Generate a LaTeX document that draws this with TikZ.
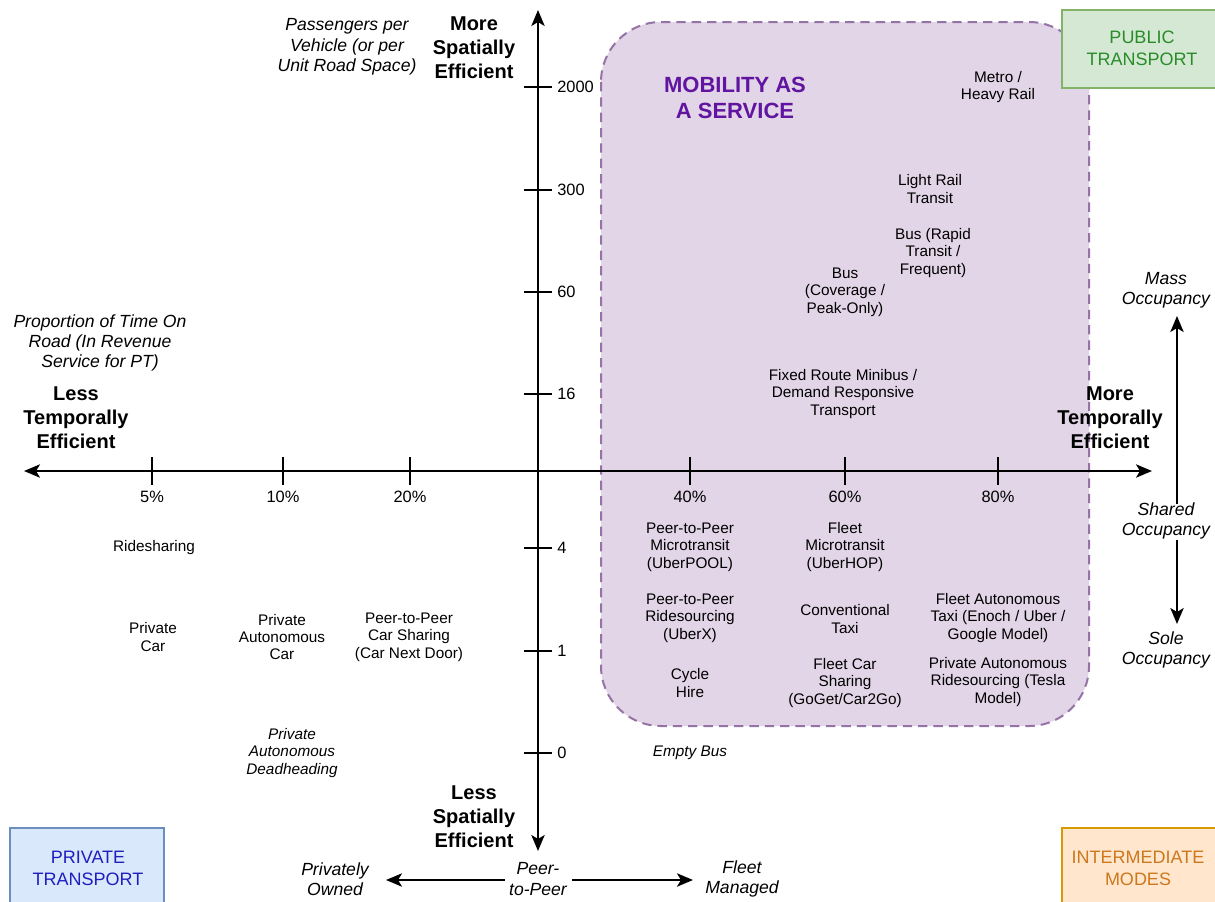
\documentclass[tikz,border=0pt]{standalone}
\usepackage{fontspec}
\setmainfont{Liberation Sans}
\usetikzlibrary{arrows.meta}
\definecolor{maasfill}{HTML}{E1D5E7}
\definecolor{maasline}{HTML}{9673A6}
\definecolor{maastext}{RGB}{96,20,160}
\definecolor{pubfill}{HTML}{D5E8D4}
\definecolor{publine}{HTML}{82B366}
\definecolor{pubtext}{RGB}{40,140,40}
\definecolor{privfill}{HTML}{DAE8FC}
\definecolor{privline}{HTML}{6C8EBF}
\definecolor{privtext}{RGB}{30,30,190}
\definecolor{intfill}{HTML}{FFE6CC}
\definecolor{intline}{HTML}{D79B00}
\definecolor{inttext}{RGB}{205,120,30}
\begin{document}
\begin{tikzpicture}[x=0.75pt,y=-0.75pt,
  item/.style={align=center, font=\fontsize{11.5}{13.1}\selectfont, inner sep=0pt},
  itemit/.style={align=center, font=\fontsize{11.5}{13.1}\selectfont\itshape, inner sep=0pt},
  axlab/.style={align=center, font=\fontsize{15}{18}\selectfont\bfseries, inner sep=0pt},
  dimlab/.style={align=center, font=\fontsize{13.2}{15.2}\selectfont\itshape, inner sep=0pt},
  ticklab/.style={font=\fontsize{12.3}{14}\selectfont, inner sep=0pt},
  corner/.style={align=center, font=\fontsize{13.5}{16.5}\selectfont, inner sep=0pt},
  tip/.tip={Stealth[length=12pt,width=10pt,inset=3pt]},
  arr/.style={line width=1.5pt, -tip},
  darr/.style={line width=1.5pt, tip-tip},
  tickmark/.style={line width=1.5pt},
  cornerbox/.style={line width=1.5pt}]
\useasboundingbox (0,0) rectangle (1215,901);
\fill[white] (0,0) rectangle (1215,901);

% MaaS region
\draw[fill=maasfill, draw=maasline, line width=1.5pt, dash pattern=on 7pt off 4.5pt, rounded corners=45pt]
  (601,22) rectangle (1089,726);
\node[axlab, text=maastext, font=\fontsize{16.5}{19}\selectfont\bfseries] (maas) at (735,98) {MOBILITY AS\\A SERVICE};

% corner boxes
\draw[cornerbox, fill=pubfill, draw=publine] (1062,10) rectangle (1222,88);
\node[corner, text=pubtext] (pub) at (1142,48) {PUBLIC\\TRANSPORT};
\draw[cornerbox, fill=privfill, draw=privline] (10,828) rectangle (164,906);
\node[corner, text=privtext] (priv) at (88,868) {PRIVATE\\TRANSPORT};
\draw[cornerbox, fill=intfill, draw=intline] (1062,828) rectangle (1222,906);
\node[corner, text=inttext] (inter) at (1138,868) {INTERMEDIATE\\MODES};

% axes
\coordinate (vtop) at (538,10);
\coordinate (vbot) at (538,851);
\coordinate (hleft) at (24,471);
\coordinate (hright) at (1152,471);
\draw[darr] (vbot) -- (vtop);
\draw[darr] (hleft) -- (hright);

% vertical ticks
\foreach \yy/\lab/\nm in {87/2000/ta,190/300/tb,292/60/tc,394/16/td,548/4/te,651/1/tf,753/0/tg}{
  \draw[tickmark] (524,\yy) -- (552,\yy);
  \node[ticklab, anchor=west] (\nm) at (557,\yy) {\lab};
}
% horizontal ticks
\foreach \xx/\lab/\nm in {152/5\%/ha,283/10\%/hb,410/20\%/hc,690/40\%/hd,845/60\%/he,998/80\%/hf}{
  \draw[tickmark] (\xx,457) -- (\xx,485);
  \node[ticklab] (\nm) at (\xx,497) {\lab};
}

% axis labels
\node[dimlab] (ppv) at (347,47) {Passengers per\\Vehicle (or per\\Unit Road Space)};
\node[axlab] (mse) at (474,48) {More\\Spatially\\Efficient};
\node[axlab] (lse) at (474,817) {Less\\Spatially\\Efficient};
\node[dimlab] (ptr) at (100,343) {Proportion of Time On\\Road (In Revenue\\Service for PT)};
\node[axlab] (lte) at (76,418) {Less\\Temporally\\Efficient};
\node[axlab] (mte) at (1110,418) {More\\Temporally\\Efficient};

% occupancy
\node[dimlab] (mass) at (1166,290) {Mass\\Occupancy};
\node[dimlab] (shared) at (1166,521) {Shared\\Occupancy};
\node[dimlab] (sole) at (1166,650) {Sole\\Occupancy};
\coordinate (occA) at (1177,504);
\coordinate (occB) at (1177,316);
\coordinate (occC) at (1177,540);
\coordinate (occD) at (1177,624);
\draw[arr] (occA) -- (occB);
\draw[arr] (occC) -- (occD);

% ownership
\node[dimlab] (own) at (335,879) {Privately\\Owned};
\node[dimlab] (p2p) at (538,879) {Peer-\\to-Peer};
\node[dimlab] (fleet) at (742,879) {Fleet\\Managed};
\coordinate (ownA) at (505,880);
\coordinate (ownB) at (386,880);
\coordinate (ownC) at (572,880);
\coordinate (ownD) at (693,880);
\draw[arr] (ownA) -- (ownB);
\draw[arr] (ownC) -- (ownD);

% items
\node[item] (metro) at (998,87) {Metro /\\Heavy Rail};
\node[item] (lrt) at (930,189) {Light Rail\\Transit};
\node[item] (brt) at (933,253) {Bus (Rapid\\Transit /\\Frequent)};
\node[item] (bus) at (845,292) {Bus\\(Coverage /\\Peak-Only)};
\node[item] (mini) at (843,394) {Fixed Route Minibus /\\Demand Responsive\\Transport};
\node[item] (p2pm) at (690,547) {Peer-to-Peer\\Microtransit\\(UberPOOL)};
\node[item] (fm) at (845,547) {Fleet\\Microtransit\\(UberHOP)};
\node[item] (p2pr) at (690,618) {Peer-to-Peer\\Ridesourcing\\(UberX)};
\node[item] (taxi) at (845,619) {Conventional\\Taxi};
\node[item] (fat) at (998,618) {Fleet Autonomous\\Taxi (Enoch / Uber /\\Google Model)};
\node[item] (cycle) at (690,683) {Cycle\\Hire};
\node[item] (fcs) at (845,683) {Fleet Car\\Sharing\\(GoGet/Car2Go)};
\node[item] (par) at (998,682) {Private Autonomous\\Ridesourcing (Tesla\\Model)};
\node[itemit] (empty) at (690,753) {Empty Bus};
\node[item] (rides) at (154,548) {Ridesharing};
\node[item] (pcar) at (153,637) {Private\\Car};
\node[item] (pac) at (282,637) {Private\\Autonomous\\Car};
\node[item] (p2pc) at (409,637) {Peer-to-Peer\\Car Sharing\\(Car Next Door)};
\node[itemit] (dead) at (292,753) {Private\\Autonomous\\Deadheading};
\end{tikzpicture}
\end{document}
